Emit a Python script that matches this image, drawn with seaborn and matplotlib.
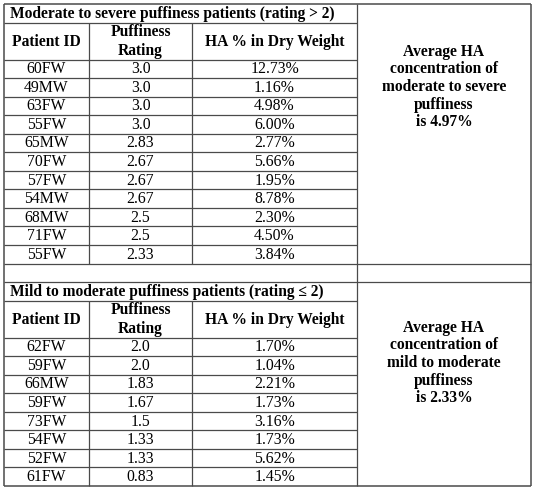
import matplotlib
matplotlib.use("Agg")
import matplotlib.pyplot as plt
import seaborn as sns

# ---- data ----
severe_title = "Moderate to severe puffiness patients (rating > 2)"
severe_ids = ["60FW", "49MW", "63FW", "55FW", "65MW", "70FW", "57FW", "54MW", "68MW", "71FW", "55FW"]
severe_ratings = ["3.0", "3.0", "3.0", "3.0", "2.83", "2.67", "2.67", "2.67", "2.5", "2.5", "2.33"]
severe_ha = ["12.73%", "1.16%", "4.98%", "6.00%", "2.77%", "5.66%", "1.95%", "8.78%", "2.30%", "4.50%", "3.84%"]
severe_note = "Average HA\nconcentration of\nmoderate to severe\npuffiness\nis 4.97%"

mild_title = "Mild to moderate puffiness patients (rating \u2264 2)"
mild_ids = ["62FW", "59FW", "66MW", "59FW", "73FW", "54FW", "52FW", "61FW"]
mild_ratings = ["2.0", "2.0", "1.83", "1.67", "1.5", "1.33", "1.33", "0.83"]
mild_ha = ["1.70%", "1.04%", "2.21%", "1.73%", "3.16%", "1.73%", "5.62%", "1.45%"]
mild_note = "Average HA\nconcentration of\nmild to moderate\npuffiness\nis 2.33%"

headers = ["Patient ID", "Puffiness\nRating", "HA % in Dry Weight"]

# ---- layout ----
sns.set_theme(style="white")
plt.rcParams['font.family'] = ['Liberation Serif', 'DejaVu Serif']

W, H = 537, 491
fig = plt.figure(figsize=(W / 100, H / 100), dpi=100)
ax = fig.add_axes([0, 0, 1, 1])
ax.set_xlim(0, W)
ax.set_ylim(H, 0)
ax.axis("off")

cols = [4, 89, 192, 357, 531]
LC = "#4a4a4a"
LW = 0.9
FS_BODY = 11.3
FS_BOLD = 11.2
rh = 18.55

def hline(y, x0, x1, lw=LW):
    ax.plot([x0, x1], [y, y], color=LC, lw=lw, solid_capstyle="butt")

def vline(x, y0, y1, lw=LW):
    ax.plot([x, x], [y0, y1], color=LC, lw=lw, solid_capstyle="butt")

def section(y0, title, ids, ratings, ha, note, note_y):
    title_h = 18.5
    head_h = 37
    y_t = y0 + title_h
    y_h = y_t + head_h
    y_end = y_h + rh * len(ids)
    # title
    ax.text(cols[0] + 6, y0 + title_h / 2 + 0.5, title, ha="left", va="center",
            fontsize=FS_BOLD, fontweight="bold", color="black")
    hline(y_t, cols[0], cols[3])
    # header
    for i, h in enumerate(headers):
        xc = (cols[i] + cols[i + 1]) / 2
        ax.text(xc, y_t + head_h / 2 + 0.5, h, ha="center", va="center",
                fontsize=FS_BOLD, fontweight="bold", color="black", linespacing=1.25)
    hline(y_h, cols[0], cols[3])
    # rows
    for r, vals in enumerate(zip(ids, ratings, ha)):
        yc = y_h + rh * (r + 0.5)
        for i, v in enumerate(vals):
            xc = (cols[i] + cols[i + 1]) / 2
            ax.text(xc, yc + 0.5, v, ha="center", va="center",
                    fontsize=FS_BODY, color="black")
        if r < len(ids) - 1:
            hline(y_h + rh * (r + 1), cols[0], cols[3])
    vline(cols[1], y_t, y_end)
    vline(cols[2], y_t, y_end)
    # note in right column
    ax.text((cols[3] + cols[4]) / 2, note_y, note, ha="center", va="center",
            fontsize=FS_BOLD, fontweight="bold", color="black", linespacing=1.14)
    return y_end

y1 = section(4, severe_title, severe_ids, severe_ratings, severe_ha, severe_note, 87)
hline(y1, cols[0], cols[4])
y2 = y1 + 18.5
hline(y2, cols[0], cols[4])
y3 = section(y2, mild_title, mild_ids, mild_ratings, mild_ha, mild_note, 363)

# outer frame and right column divider
hline(4, cols[0], cols[4], lw=1.1)
hline(y3, cols[0], cols[4], lw=1.1)
vline(cols[0], 4, y3, lw=1.1)
vline(cols[4], 4, y3, lw=1.1)
vline(cols[3], 4, y3)

fig.savefig("out.png", dpi=100, facecolor="white")
